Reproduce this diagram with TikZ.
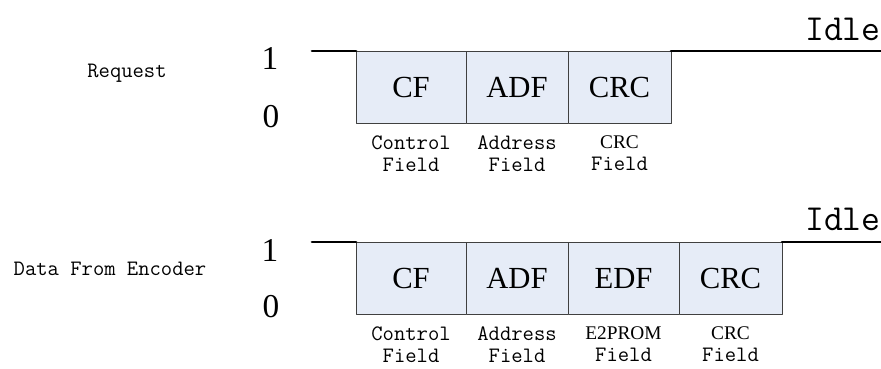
\documentclass[tikz,border=0pt]{standalone}
\usepackage{fontspec}
\setmainfont{Liberation Serif}
\usepackage{tikz}
\usetikzlibrary{positioning}
\definecolor{fieldfill}{RGB}{230,236,247}
\definecolor{fieldline}{RGB}{64,64,64}
\tikzset{
  field/.style={draw=fieldline,line width=0.75pt,fill=fieldfill,minimum height=54.5pt,inner sep=0pt,outer sep=0pt,font=\fontsize{23}{25}\selectfont},
  signal/.style={line width=2pt},
  fieldname/.style={align=center,inner sep=0pt,anchor=north,font=\fontsize{16.5}{16.5}\selectfont\ttfamily},
  level/.style={anchor=base,inner sep=0pt,font=\fontsize{25}{27}\selectfont},
  caption/.style={anchor=base,inner sep=0pt,font=\fontsize{16.5}{17}\selectfont\ttfamily},
  idle/.style={anchor=base east,inner sep=0pt,font=\fontsize{27.5}{29}\selectfont\ttfamily}
}
\begin{document}
\begin{tikzpicture}[line cap=round,line join=round,x=0.75pt,y=-0.75pt]
                \useasboundingbox (0,0) rectangle (881,368);
                \coordinate (reqstart) at (312,51);
                \coordinate (reqend) at (881,51);
                \node[field,minimum width=82.5pt,anchor=north west] (reqcf) at (356,51) {CF};
                \node[field,minimum width=76.5pt,right=0pt of reqcf] (reqadf) {ADF};
                \node[field,minimum width=77.25pt,right=0pt of reqadf] (reqcrc) {CRC};
                \draw[signal] (reqstart) -- (reqcf.north west);
                \draw[signal] (reqcrc.north east) -- (reqend);
                \node[fieldname,below=9pt of reqcf] (reqcfname) {Control\\Field};
                \node[fieldname,below=9pt of reqadf] (reqadfname) {Address\\Field};
                \node[fieldname,below=9pt of reqcrc] (reqcrcname) {{\rmfamily\fontsize{14.5}{16.5}\selectfont CRC}\\Field};
                \node[caption] (reqcaption) at (127,77.5) {Request};
                \node[level] (reqhigh) at (270,69) {1};
                \node[level] (reqlow) at (271,127) {0};
                \node[idle] (reqidle) at (881,40) {Idle};
                \coordinate (encstart) at (312,242);
                \coordinate (encend) at (881,242);
                \node[field,minimum width=82.5pt,anchor=north west] (enccf) at (356,242) {CF};
                \node[field,minimum width=76.5pt,right=0pt of enccf] (encadf) {ADF};
                \node[field,minimum width=83.25pt,right=0pt of encadf] (encedf) {EDF};
                \node[field,minimum width=77.25pt,right=0pt of encedf] (enccrc) {CRC};
                \draw[signal] (encstart) -- (enccf.north west);
                \draw[signal] (enccrc.north east) -- (encend);
                \node[fieldname,below=9pt of enccf] (enccfname) {Control\\Field};
                \node[fieldname,below=9pt of encadf] (encadfname) {Address\\Field};
                \node[fieldname,below=9pt of encedf] (encedfname) {{\rmfamily\fontsize{14.5}{16.5}\selectfont E2PROM}\\Field};
                \node[fieldname,below=9pt of enccrc] (enccrcname) {{\rmfamily\fontsize{14.5}{16.5}\selectfont CRC}\\Field};
                \node[caption] (enccaption) at (110,275) {Data From Encoder};
                \node[level] (enchigh) at (270,261) {1};
                \node[level] (enclow) at (271,317) {0};
                \node[idle] (encidle) at (881,230) {Idle};
\end{tikzpicture}
\end{document}
